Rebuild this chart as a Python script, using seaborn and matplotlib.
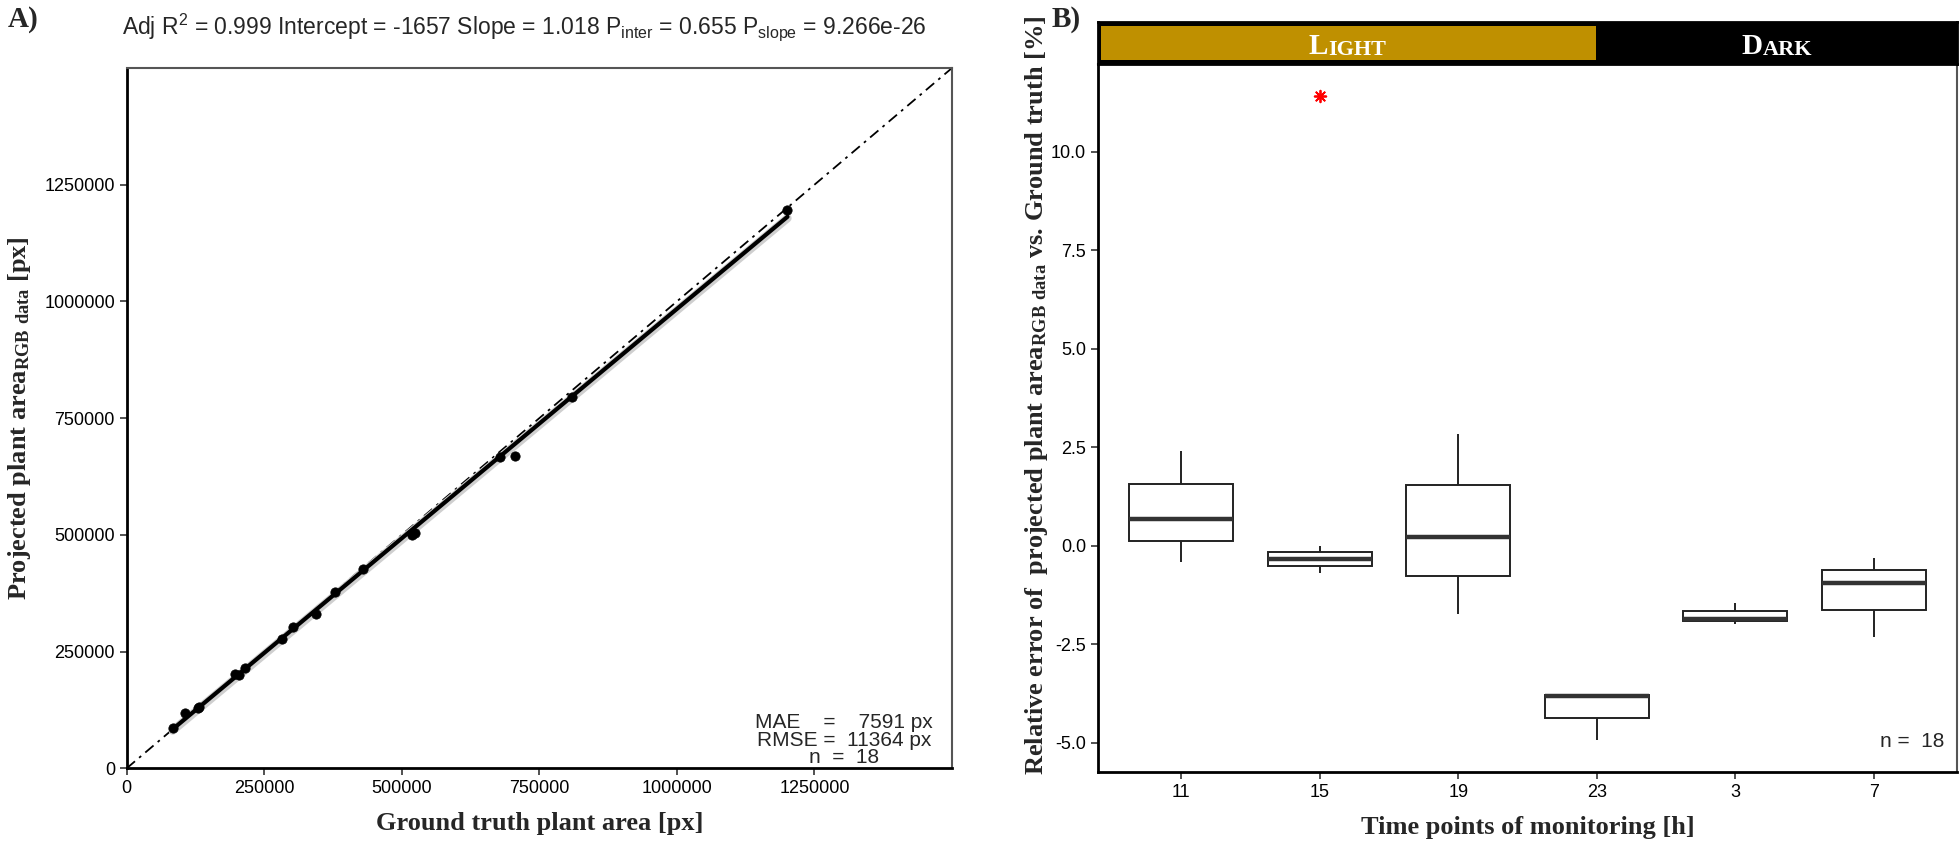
import numpy as np
import pandas as pd
import seaborn as sns
import matplotlib.pyplot as plt
from matplotlib.patches import Rectangle

# panel A: plant area, ground truth vs RGB data [px]
gt_area = [83600, 106000, 129100, 132000, 196900, 204700, 215100, 282900, 302900,
           344200, 378700, 430200, 519000, 524200, 678700, 706000, 809100, 1201000]
rgb_area = [87000, 119100, 128500, 132000, 202000, 199900, 215500, 277000, 303300,
            330500, 377000, 426300, 500000, 504700, 667500, 669700, 794800, 1196000]
fit_intercept = -1657
fit_slope = 1.018
area_ticks = [0, 250000, 500000, 750000, 1000000, 1250000]
area_max = 1500000

# panel B: relative error per time point [%], box statistics
time_points = ['11', '15', '19', '23', '3', '7']
whisker_low = [-0.41, -0.68, -1.73, -4.92, -1.98, -2.31]
quart_low = [0.13, -0.52, -0.76, -4.38, -1.92, -1.64]
medians = [0.67, -0.33, 0.22, -3.82, -1.86, -0.95]
quart_high = [1.56, -0.16, 1.54, -3.78, -1.65, -0.62]
whisker_high = [2.41, 0.0, 2.83, -3.75, -1.46, -0.30]
outlier_time = ['15']
outlier_err = [11.41]
err_ticks = [-5.0, -2.5, 0.0, 2.5, 5.0, 7.5, 10.0]

sns.set_style('white')
plt.rcParams['font.family'] = ['Liberation Sans', 'DejaVu Sans']
plt.rcParams['mathtext.default'] = 'regular'
serif = dict(family=['Liberation Serif', 'DejaVu Serif'], weight='bold')

W, H = 1960, 842
def place(l, t, r, b):
    return [l / W, 1 - b / H, (r - l) / W, (b - t) / H]

fig = plt.figure(figsize=(19.6, 8.42), dpi=100)
axA = fig.add_axes(place(126.7, 68, 952, 768.3))
axB = fig.add_axes(place(1098, 64, 1957, 772))
axS = fig.add_axes(place(1098, 22, 1957, 64))

# ---- A ----
axA.axline((0, 0), slope=1, color='black', lw=1.3, dashes=(6, 3, 1.5, 3))
fit_x = np.array([min(gt_area), max(gt_area)])
fit_y = (fit_x - fit_intercept) / fit_slope
sns.lineplot(x=fit_x, y=fit_y - 3000, color='#cfcfcf', lw=6, ax=axA)
sns.lineplot(x=fit_x, y=fit_y, color='black', lw=3, ax=axA)
sns.scatterplot(x=gt_area, y=rgb_area, color='black', s=45, edgecolor='black', ax=axA, zorder=5)
axA.set_xlim(0, area_max)
axA.set_ylim(0, area_max)
axA.set_xticks(area_ticks)
axA.set_yticks(area_ticks)
axA.set_xticklabels([str(t) for t in area_ticks])
axA.set_yticklabels([str(t) for t in area_ticks])
axA.set_xlabel('Ground truth plant area [px]', fontsize=19, labelpad=11, **serif)
axA.set_ylabel(r'Projected plant area$_{\mathregular{RGB\ data}}$ [px]', fontsize=19, **serif)
axA.yaxis.set_label_coords(-0.113, 0.5)
fig.text(524 / W, 1 - 27 / H,
         r'Adj R$^{2}$ = 0.999 Intercept = -1657 Slope = 1.018 P$_{inter}$ = 0.655 '
         r'P$_{slope}$ = 9.266e-26', fontsize=16.5, ha='center', va='center')
axA.text(0.869, 0.002, 'MAE    =    7591 px\nRMSE =  11364 px\nn  =  18', transform=axA.transAxes,
         ha='center', va='bottom', fontsize=15, linespacing=0.88, multialignment='center')

# ---- B ----
stats = pd.DataFrame({'time': time_points, 'lw': whisker_low, 'q1': quart_low,
                      'med': medians, 'q3': quart_high, 'hw': whisker_high})
long = stats.melt(id_vars='time', value_name='err')
sns.boxplot(data=long, x='time', y='err', order=time_points, width=0.75, whis=(0, 100),
            showfliers=False, showcaps=False, linecolor='#222222', linewidth=1.4,
            boxprops=dict(facecolor='white'),
            medianprops=dict(color='#333333', linewidth=3.2), ax=axB)
sns.scatterplot(x=outlier_time, y=outlier_err, marker=(8, 2, 0), color='red', edgecolor='red',
                s=70, linewidth=1.3, ax=axB)
axB.set_xlim(-0.6, 5.6)
axB.set_ylim(-5.74, 12.22)
axB.set_yticks(err_ticks)
axB.set_yticklabels([f'{t:.1f}' for t in err_ticks])
axB.set_xlabel('Time points of monitoring [h]', fontsize=19, labelpad=11, **serif)
axB.set_ylabel(r'Relative error of  projected plant area$_{\mathregular{RGB\ data}}$ vs. Ground truth [%]',
               fontsize=19, **serif)
axB.yaxis.set_label_coords(-0.056, 0.532)
axB.text(0.985, 0.03, 'n =  18', transform=axB.transAxes, ha='right', va='bottom', fontsize=15)

for ax in (axA, axB):
    for s in ('top', 'right'):
        ax.spines[s].set_color('#555555')
        ax.spines[s].set_linewidth(1.5)
    for s in ('left', 'bottom'):
        ax.spines[s].set_color('black')
        ax.spines[s].set_linewidth(2)
    ax.tick_params(axis='both', which='both', direction='out', length=5, width=1.2,
                   color='#333333', labelsize=13, labelcolor='black', left=True, bottom=True)

# light / dark strip
light_frac = 0.58
axS.set_xlim(0, 1)
axS.set_ylim(0, 1)
axS.set_facecolor('black')
axS.set_xticks([])
axS.set_yticks([])
for s in axS.spines.values():
    s.set_color('black')
    s.set_linewidth(2)
axS.add_patch(Rectangle((0.004, 0.1), light_frac - 0.004, 0.8, color='#BF9000', lw=0))

caps = []
for word, cx in (('Light', light_frac / 2), ('Dark', (1 + light_frac) / 2)):
    t1 = axS.text(cx, 0.24, word[0].upper(), fontsize=21, color='white', ha='left', va='baseline', **serif)
    t2 = axS.annotate(word[1:].upper(), xy=(1, 0), xycoords=t1, va='bottom', ha='left',
                      fontsize=16, color='white', **serif)
    caps.append((t1, t2, cx))
fig.canvas.draw()
r = fig.canvas.get_renderer()
inv = axS.transAxes.inverted()
for t1, t2, cx in caps:
    b1 = t1.get_window_extent(r)
    b2 = t2.get_window_extent(r)
    mid = (b1.x0 + b2.x1) / 2
    shift = inv.transform((mid, 0))[0] - inv.transform((b1.x0, 0))[0]
    t1.set_x(cx - shift)

fig.text(8 / W, 1 - 6 / H, 'A)', fontsize=21, va='top', ha='left', **serif)
fig.text(1052 / W, 1 - 6 / H, 'B)', fontsize=21, va='top', ha='left', **serif)

fig.savefig('out.png', dpi=100)
